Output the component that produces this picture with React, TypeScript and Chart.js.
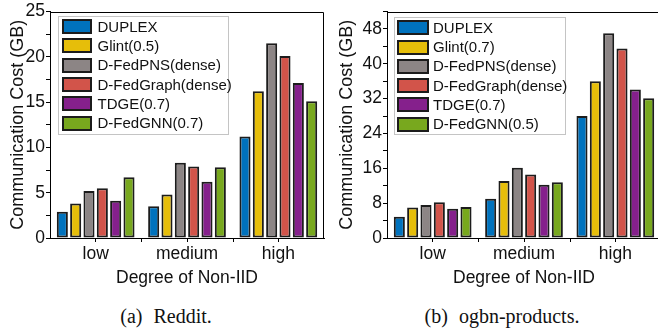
import React, { useEffect, useRef } from 'react';
import { Chart, registerables } from 'chart.js';

Chart.register(...registerables);

const FONT = '"Liberation Sans", Arial, sans-serif';
const SERIF = '"Liberation Serif", "Times New Roman", serif';

// ---------- data ----------
const categories = ['low', 'medium', 'high'];
const seriesColors = ['#0072BD', '#E6BE0A', '#8C8585', '#D2544A', '#85208C', '#78A81E'];

const redditLabels = ['DUPLEX', 'Glint(0.5)', 'D-FedPNS(dense)', 'D-FedGraph(dense)', 'TDGE(0.7)', 'D-FedGNN(0.7)'];
const redditDuplex = [2.9, 3.5, 11.2];
const redditGlint = [3.8, 4.8, 16.2];
const redditPNS = [5.2, 8.3, 21.5];
const redditFedGraph = [5.5, 7.9, 20.1];
const redditTDGE = [4.1, 6.2, 17.1];
const redditFedGNN = [6.7, 7.8, 15.1];
const redditYTicks = [0, 5, 10, 15, 20, 25];

const productsLabels = ['DUPLEX', 'Glint(0.7)', 'D-FedPNS(dense)', 'D-FedGraph(dense)', 'TDGE(0.7)', 'D-FedGNN(0.5)'];
const productsDuplex = [4.9, 9.0, 28.0];
const productsGlint = [7.0, 13.1, 36.0];
const productsPNS = [7.6, 16.1, 47.0];
const productsFedGraph = [8.2, 14.6, 43.5];
const productsTDGE = [6.7, 12.2, 34.1];
const productsFedGNN = [7.1, 12.8, 32.1];
const productsYTicks = [0, 8, 16, 24, 32, 40, 48];

const xTitle = 'Degree of Non-IID';
const yTitle = 'Communication Cost (GB)';

// ---------- plugins ----------
const framePlugin = {
  id: 'frame',
  afterDatasetsDraw(chart: any) {
    const { ctx, chartArea: a } = chart;
    ctx.save();
    ctx.strokeStyle = '#000';
    ctx.lineWidth = 1;
    ctx.beginPath();
    ctx.moveTo(Math.round(a.left) + 0.5, Math.round(a.top) + 0.5);
    ctx.lineTo(Math.round(a.right) - 0.5, Math.round(a.top) + 0.5);
    ctx.lineTo(Math.round(a.right) - 0.5, Math.round(a.bottom));
    ctx.stroke();
    // boundary ticks on the category axis
    const xs = chart.scales.x;
    const n = chart.data.labels.length;
    ctx.beginPath();
    for (let i = 0; i < n - 1; i++) {
      const px = (xs.getPixelForValue(i) + xs.getPixelForValue(i + 1)) / 2;
      ctx.moveTo(Math.round(px) + 0.5, a.bottom);
      ctx.lineTo(Math.round(px) + 0.5, a.bottom + 4);
    }
    ctx.stroke();
    ctx.restore();
  },
};

const boxLegendPlugin = {
  id: 'boxLegend',
  afterDraw(chart: any, _args: any, o: any) {
    const { ctx, chartArea: a } = chart;
    const x = Math.round(a.left + o.offX);
    const y = Math.round(a.top + o.offY);
    ctx.save();
    ctx.fillStyle = '#fff';
    ctx.fillRect(x, y, o.w, o.h);
    ctx.strokeStyle = '#c4c4c4';
    ctx.lineWidth = 1;
    ctx.strokeRect(x + 0.5, y + 0.5, o.w, o.h);
    ctx.font = `${o.fontSize}px ${FONT}`;
    ctx.textBaseline = 'middle';
    ctx.textAlign = 'left';
    chart.data.datasets.forEach((ds: any, i: number) => {
      const cy = y + o.firstRow + i * o.rowH;
      const sx = x + o.swX;
      const sy = Math.round(cy - o.swH / 2);
      ctx.fillStyle = ds.backgroundColor;
      ctx.fillRect(sx, sy, o.swW, o.swH);
      ctx.strokeStyle = '#1c1c1c';
      ctx.lineWidth = 2;
      ctx.strokeRect(sx + 1, sy + 1, o.swW - 2, o.swH - 2);
      ctx.fillStyle = '#111';
      ctx.fillText(ds.label, x + o.textX, cy + 1);
    });
    ctx.restore();
  },
};

type Props = {
  labels: string[];
  series: number[][];
  yMax: number;
  yStep: number;
  yMajor: number[];
  yWidth: number;
  width: number;
  height: number;
  padRight: number;
  yTitlePad: number;
  legend: any;
};

function BarChart(p: Props) {
  const ref = useRef<HTMLCanvasElement>(null);
  useEffect(() => {
    if (!ref.current) return;
    const chart = new Chart(ref.current, {
      type: 'bar',
      data: {
        labels: categories,
        datasets: p.series.map((vals, i) => ({
          label: p.labels[i],
          data: vals,
          backgroundColor: seriesColors[i],
          borderColor: '#1c1c1c',
          borderWidth: 2,
          borderSkipped: false,
          categoryPercentage: 0.876,
          barPercentage: 0.83,
        })),
      },
      options: {
        responsive: false,
        animation: false,
        events: [],
        layout: { padding: { left: 0, right: p.padRight, top: 11, bottom: 0 } },
        plugins: {
          legend: { display: false },
          tooltip: { enabled: false },
          boxLegend: p.legend,
        } as any,
        scales: {
          x: {
            offset: true,
            grid: { display: true, drawOnChartArea: false, tickLength: 4, tickColor: '#000', offset: false },
            border: { color: '#000', width: 1 },
            ticks: { font: { family: FONT, size: 17.5 }, color: '#111', padding: 2 },
            title: {
              display: true,
              text: xTitle,
              font: { family: FONT, size: 17.5 },
              color: '#111',
              padding: { top: 0, bottom: 11 },
            },
            afterFit: (s: any) => {
              s.height = p.height - 238;
            },
          },
          y: {
            min: 0,
            max: p.yMax,
            grid: { drawOnChartArea: false, tickLength: 4, tickColor: '#000' },
            border: { color: '#000', width: 1 },
            ticks: {
              stepSize: p.yStep,
              autoSkip: false,
              padding: 1,
              font: { family: FONT, size: 17.5 },
              color: '#111',
              callback: (v: any) => (p.yMajor.includes(Number(v)) ? String(v) : ''),
            },
            title: {
              display: true,
              text: yTitle,
              font: { family: FONT, size: 18 },
              color: '#111',
              padding: { top: p.yTitlePad, bottom: 0 },
            },
            afterFit: (s: any) => {
              s.width = p.yWidth;
            },
          },
        },
      },
      plugins: [framePlugin, boxLegendPlugin],
    } as any);
    return () => chart.destroy();
  }, []);
  return <canvas ref={ref} width={p.width} height={p.height} style={{ display: 'block' }} />;
}

export default function App() {
  const captionStyle: React.CSSProperties = {
    position: 'absolute',
    top: 305,
    fontFamily: SERIF,
    fontSize: 20,
    lineHeight: '22px',
    color: '#111',
    whiteSpace: 'nowrap',
    transform: 'translateX(-50%)',
  };
  return (
    <div style={{ position: 'absolute', left: 0, top: 0, width: 658, height: 330, overflow: 'hidden', background: '#fff' }}>
      <div style={{ position: 'absolute', left: 0, top: 0 }}>
        <BarChart
          labels={redditLabels}
          series={[redditDuplex, redditGlint, redditPNS, redditFedGraph, redditTDGE, redditFedGNN]}
          yMax={25}
          yStep={2.5}
          yMajor={redditYTicks}
          yWidth={50}
          width={330}
          height={300}
          padRight={6}
          yTitlePad={7}
          legend={{ offX: 8, offY: 4, w: 170, h: 118, swX: 4, swW: 30, swH: 15, textX: 39.5, firstRow: 10.5, rowH: 19.3, fontSize: 15 }}
        />
      </div>
      <div style={{ position: 'absolute', left: 330, top: 0 }}>
        <BarChart
          labels={productsLabels}
          series={[productsDuplex, productsGlint, productsPNS, productsFedGraph, productsTDGE, productsFedGNN]}
          yMax={52}
          yStep={4}
          yMajor={productsYTicks}
          yWidth={57}
          width={332}
          height={300}
          padRight={1}
          yTitlePad={6}
          legend={{ offX: 7, offY: 5, w: 171, h: 117, swX: 3, swW: 32, swH: 15, textX: 39, firstRow: 10.7, rowH: 19.3, fontSize: 15 }}
        />
      </div>
      <div style={{ ...captionStyle, left: 166 }}>
        (a)<span style={{ marginLeft: 11 }}>Reddit.</span>
      </div>
      <div style={{ ...captionStyle, left: 502 }}>
        (b)<span style={{ marginLeft: 11 }}>ogbn-products.</span>
      </div>
    </div>
  );
}
